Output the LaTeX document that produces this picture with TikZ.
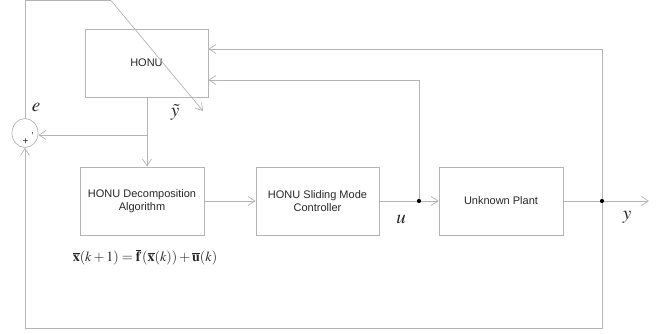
\documentclass[tikz,border=0pt]{standalone}
\usepackage{mathptmx}
\usepackage[no-math]{fontspec}
\setsansfont{Liberation Sans}
\usetikzlibrary{arrows.meta,shapes.geometric}
\definecolor{wire}{HTML}{B4B4B4}
\definecolor{ink}{HTML}{262626}
\tikzset{
  blockbox/.style={draw=wire, line width=0.7pt, minimum width=#1, minimum height=68pt,
    inner sep=0pt, align=center, font=\sffamily\fontsize{11}{13}\selectfont, text=ink},
  blockbox/.default=123pt,
  wireline/.style={draw=wire, line width=0.7pt},
  flow/.style={wireline, -{Straight Barb[length=7pt,width=9pt,line width=0.7pt]}},
  junction/.style={circle, fill=black, inner sep=0pt, minimum size=4.2pt},
  siglabel/.style={text=ink, font=\fontsize{19}{20}\selectfont, inner sep=0pt},
}
\begin{document}
\begin{tikzpicture}[x=1pt, y=-1pt]
\useasboundingbox (0,0) rectangle (670,334);

% blocks
\node[blockbox] (honu)  at (146.5,63)  {HONU};
\node[blockbox=124pt] (decomp) at (142,201) {HONU Decomposition\\Algorithm};
\node[blockbox=123pt] (smc)   at (317.5,201) {HONU Sliding Mode\\Controller};
\node[blockbox=124pt] (plant) at (501,201) {Unknown Plant};

% summing junction
\node[draw=wire, line width=0.7pt, ellipse, minimum width=26pt, minimum height=29pt, inner sep=0pt] (sum) at (25,133) {};
\node[text=ink, font=\sffamily\fontsize{10}{10}\selectfont, inner sep=0pt] (plus) at (25.5,142) {+};
\node[text=ink, font=\sffamily\fontsize{10}{10}\selectfont, inner sep=0pt] (minus) at (32.5,136) {'};

% junction points and routing corners
\node[junction] (ju) at (419,201) {};
\node[junction] (jy) at (602,201) {};
\coordinate (tap) at (147,135);
\coordinate (topleft) at (25,0.5);
\coordinate (slashstart) at (111,0.5);
\coordinate (slashend) at (203,111);
\coordinate (yout) at (649,201);
\coordinate (bottomright) at (602,328);
\coordinate (bottomleft) at (25,328);
\coordinate (yback) at (602,49);
\coordinate (uback) at (419,80);

% forward path
\draw[flow] (decomp.east |- 0,201) -- (smc.west |- 0,201);
\draw[wireline] (smc.east |- 0,201) -- (ju);
\draw[flow] (ju) -- (plant.west |- 0,201);
\draw[wireline] (plant.east |- 0,201) -- (jy);
\draw[flow] (jy) -- (yout);

% HONU output to decomposition and to the comparator
\draw[flow] (honu.south -| tap) -- (decomp.north -| tap);
\draw[flow] (tap) -- (sum.east |- tap);

% feedback of y to the comparator and to HONU
\draw[wireline] (jy) -- (bottomright) -- (bottomleft);
\draw[flow] (bottomleft) -- (sum.south);
\draw[wireline] (jy) -- (yback);
\draw[flow] (yback) -- (honu.east |- yback);
\draw[wireline] (ju) -- (uback);
\draw[flow] (uback) -- (honu.east |- uback);

% error fed back across HONU (weight adaptation)
\draw[wireline] (sum.north) -- (topleft) -- (slashstart);
\draw[flow] (slashstart) -- (slashend);

% signal labels
\node[siglabel] (elabel) at (36,107) {$e$};
\node[siglabel] (ytlabel) at (175,112) {$\tilde{y}$};
\node[siglabel] (ulabel) at (401,219) {$u$};
\node[siglabel] (ylabel) at (627,217) {$y$};

% model equation
\node[text=ink, inner sep=0pt, font=\fontsize{14}{16}\selectfont] (eq) at (145,257)
  {$\overline{\mathbf{x}}(k+1)=\overline{\mathbf{f}}\,(\overline{\mathbf{x}}(k))+\overline{\mathbf{u}}(k)$};
\end{tikzpicture}
\end{document}
